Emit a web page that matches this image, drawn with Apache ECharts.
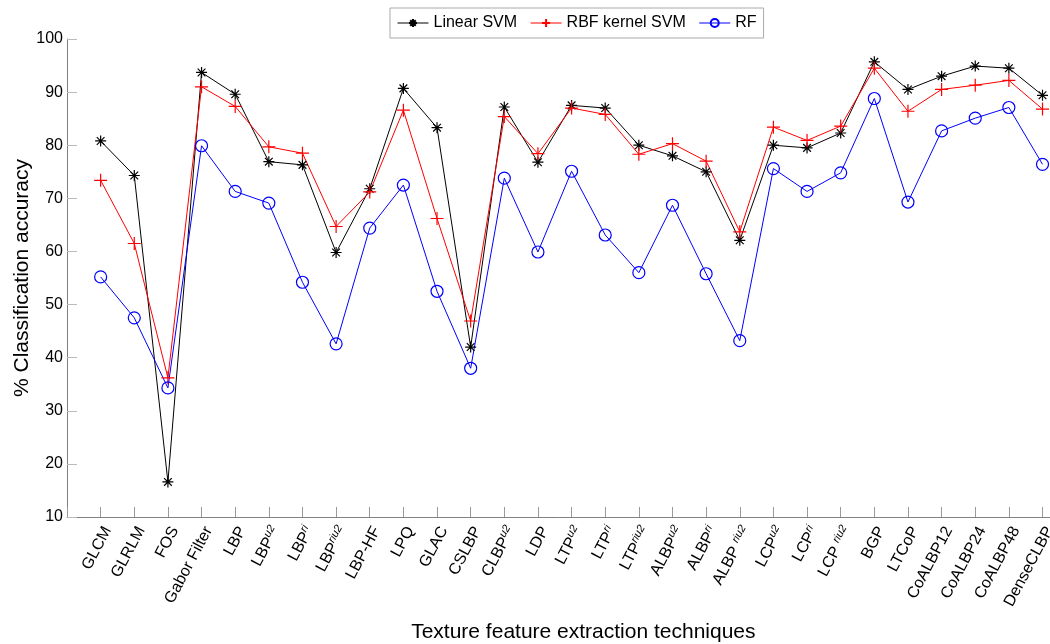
<!DOCTYPE html>
<html>
<head>
<meta charset="utf-8">
<script src="https://cdn.jsdelivr.net/npm/echarts@6/dist/echarts.min.js"></script>
<style>
  html, body { margin: 0; padding: 0; background: #fff; }
  #chart { width: 1050px; height: 644px; }
</style>
</head>
<body>
<div id="chart"></div>
<script>
// category names, with optional superscript part
const techniques = [
  ["GLCM", ""], ["GLRLM", ""], ["FOS", ""], ["Gabor Filter", ""], ["LBP", ""],
  ["LBP", "u2"], ["LBP", "ri"], ["LBP", "riu2"], ["LBP-HF", ""], ["LPQ", ""],
  ["GLAC", ""], ["CSLBP", ""], ["CLBP", "u2"], ["LDP", ""], ["LTP", "u2"],
  ["LTP", "ri"], ["LTP", "riu2"], ["ALBP", "u2"], ["ALBP", "ri"], ["ALBP ", "riu2"],
  ["LCP", "u2"], ["LCP", "ri"], ["LCP ", "riu2"], ["BGP", ""], ["LTCoP", ""],
  ["CoALBP12", ""], ["CoALBP24", ""], ["CoALBP48", ""], ["DenseCLBP", ""]
];

const linearSVM = [80.8, 74.3, 16.6, 93.7, 89.6, 76.9, 76.3, 59.8, 71.8, 90.7,
  83.3, 42.0, 87.2, 76.8, 87.5, 87.0, 80.0, 78.0, 75.0, 62.1,
  80.0, 79.5, 82.3, 95.7, 90.5, 93.0, 94.9, 94.5, 89.4];

const rbfSVM = [73.4, 61.5, 36.2, 91.0, 87.3, 79.7, 78.5, 64.7, 71.2, 86.6,
  66.2, 46.9, 85.4, 78.4, 87.0, 85.8, 78.3, 80.3, 77.0, 63.7,
  83.4, 80.9, 83.6, 94.5, 86.4, 90.5, 91.3, 92.2, 86.8];

const randomForest = [55.2, 47.5, 34.3, 79.9, 71.3, 69.1, 54.2, 42.6, 64.4, 72.5,
  52.5, 38.0, 73.8, 59.9, 75.1, 63.1, 56.0, 68.7, 55.8, 43.2,
  75.6, 71.3, 74.8, 88.8, 69.3, 82.7, 85.1, 87.1, 76.4];

const yTicks = { min: 10, max: 100, step: 10 };

const FONT = "Liberation Sans, Arial, sans-serif";
const starPath = "path://M5,0L5,10M0,5L10,5M1.5,1.5L8.5,8.5M1.5,8.5L8.5,1.5";
const plusPath = "path://M5,0L5,10M0,5L10,5";

function pairs(vals) {
  return vals.map((v, i) => [i, v]);
}

const chart = echarts.init(document.getElementById("chart"));

chart.setOption({
  animation: false,
  backgroundColor: "#fff",
  textStyle: { fontFamily: FONT },
  legend: {
    left: 390,
    top: 8,
    padding: [7, 7, 7, 7],
    itemWidth: 31,
    itemHeight: 10,
    itemGap: 13,
    borderColor: "#aaa",
    borderWidth: 1,
    lineStyle: { width: 1 },
    textStyle: { fontSize: 16, color: "#000", fontFamily: FONT }
  },
  // the plot runs past the right edge of the picture, as in the original
  grid: { left: 67, right: -49.7, top: 39, bottom: 127, outerBoundsMode: "none" },
  xAxis: {
    type: "value",
    min: -1,
    max: 29.7,
    interval: 1,
    name: "Texture feature extraction techniques",
    nameLocation: "middle",
    nameGap: 105,
    nameTextStyle: { fontSize: 21, color: "#000" },
    splitLine: { show: false },
    axisLine: { onZero: false, lineStyle: { color: "#808080", width: 1 } },
    axisTick: { inside: true, length: 10, lineStyle: { color: "#999" } },
    axisLabel: {
      rotate: 62,
      margin: 7,
      padding: [16, 0, 0, 0],
      showMaxLabel: false,
      formatter: function (v) {
        if (v < 0 || v >= techniques.length || v !== Math.round(v)) return "";
        const t = techniques[v];
        return t[1] ? "{n|" + t[0] + "}{s|" + t[1] + "}" : "{n|" + t[0] + "}";
      },
      rich: {
        n: { fontSize: 16, color: "#000", fontFamily: FONT, lineHeight: 19 },
        s: { fontSize: 11, color: "#000", fontFamily: FONT, fontStyle: "italic", verticalAlign: "top", lineHeight: 19 }
      }
    }
  },
  yAxis: {
    type: "value",
    min: yTicks.min,
    max: yTicks.max,
    interval: yTicks.step,
    name: "% Classification accuracy",
    nameLocation: "middle",
    nameGap: 34,
    nameMoveOverlap: false,
    nameTextStyle: { fontSize: 21, color: "#000" },
    splitLine: { show: false },
    axisLine: { show: true, onZero: false, lineStyle: { color: "#808080", width: 1 } },
    axisTick: { show: true, inside: true, length: 10, lineStyle: { color: "#bbb" } },
    axisLabel: { fontSize: 16, color: "#000", margin: 4 }
  },
  series: [
    {
      name: "Linear SVM",
      type: "line",
      data: pairs(linearSVM),
      symbol: starPath,
      symbolSize: 11,
      lineStyle: { color: "#000", width: 1 },
      itemStyle: { color: "#000", borderColor: "#000", borderWidth: 1.2 }
    },
    {
      name: "RBF kernel SVM",
      type: "line",
      data: pairs(rbfSVM),
      symbol: plusPath,
      symbolSize: 13,
      lineStyle: { color: "#ff0000", width: 1 },
      itemStyle: { color: "#ff0000", borderColor: "#ff0000", borderWidth: 1.2 }
    },
    {
      name: "RF",
      type: "line",
      data: pairs(randomForest),
      symbol: "circle",
      symbolSize: 12,
      lineStyle: { color: "#0000ff", width: 1 },
      itemStyle: { color: "rgba(0,0,0,0)", borderColor: "#0000ff", borderWidth: 1.2 }
    }
  ]
});
</script>
</body>
</html>
